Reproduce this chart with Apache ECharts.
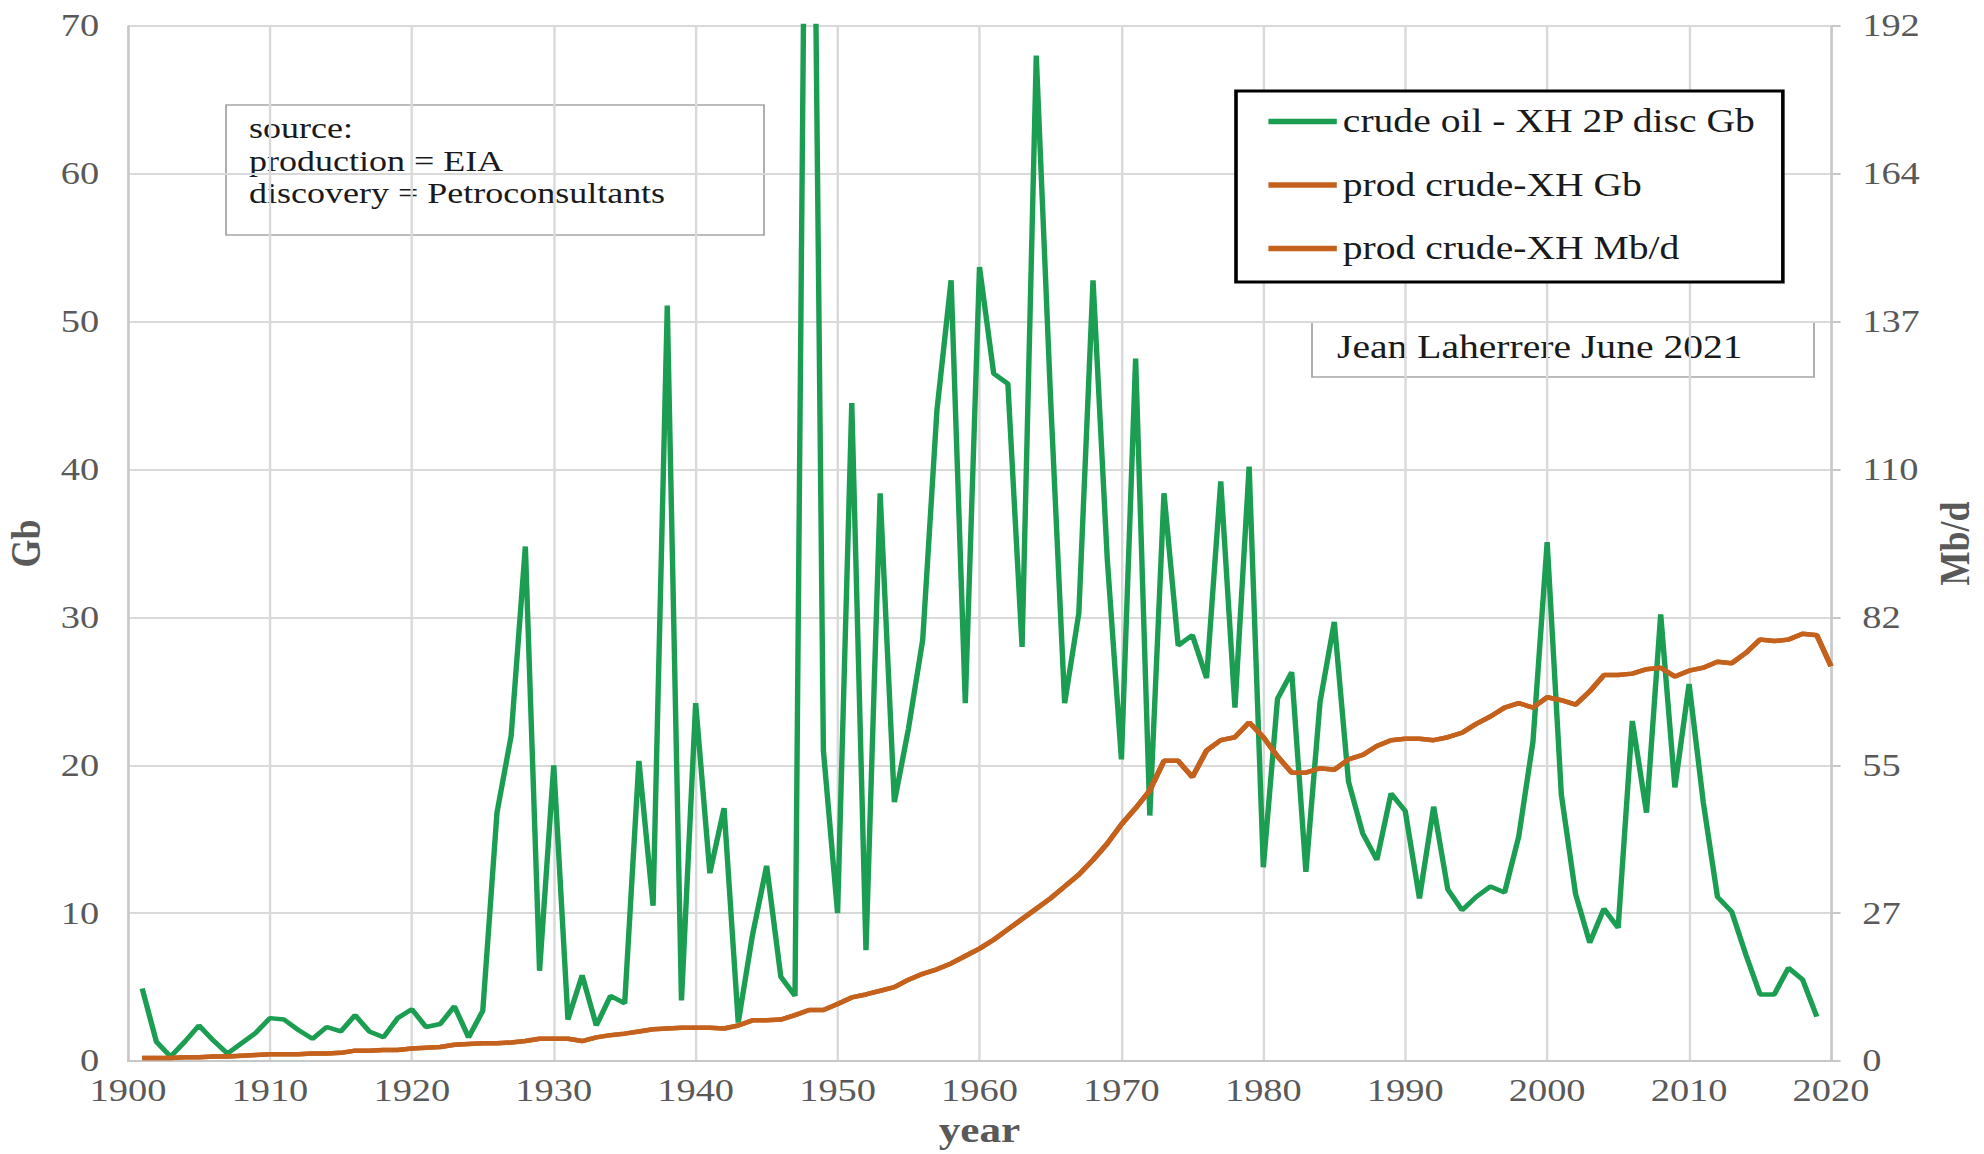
<!DOCTYPE html>
<html>
<head>
<meta charset="utf-8">
<script src="https://cdn.jsdelivr.net/npm/echarts@6.0.0/dist/echarts.min.js"></script>
<style>
html,body{margin:0;padding:0;background:#fff;overflow:hidden;width:1984px;height:1154px;}
#c{width:1653px;height:1154px;transform:scaleX(1.20024);transform-origin:0 0;}
</style>
</head>
<body>
<div id="c"></div>
<script>
// ---- data ----
const discStartYear = 1901;   // crude oil - XH 2P discovery, Gb
const discoveryGb = [
  4.9,1.3,0.3,1.3,2.4,1.4,0.5,1.2,1.9,2.9,
  2.8,2.1,1.5,2.3,2.0,3.1,2.0,1.6,2.9,3.5,
  2.3,2.5,3.7,1.6,3.4,16.8,22.0,34.8,6.1,20.0,
  2.8,5.8,2.4,4.4,3.9,20.3,10.5,51.1,4.1,24.2,
  12.7,17.1,2.6,8.5,13.2,5.7,4.4,115,21.0,10.0,
  44.5,7.5,38.4,17.5,22.5,28.5,44.0,52.8,24.2,53.7,
  46.5,45.8,28.0,68.0,45.0,24.2,30.3,52.8,34.0,20.4,
  47.5,16.6,38.4,28.1,28.8,25.9,39.2,23.9,40.2,13.1,
  24.5,26.3,12.8,24.3,29.7,18.9,15.4,13.6,18.1,16.9,
  11.0,17.2,11.6,10.2,11.1,11.8,11.4,15.2,21.6,35.1,
  18.0,11.3,8.0,10.3,9.0,23.0,16.8,30.2,18.5,25.5,
  17.5,11.1,10.1,7.2,4.5,4.5,6.3,5.5,3.0
];
const prodStartYear = 1901;
const prodGb = [
  0.2,0.2,0.2,0.25,0.25,0.3,0.3,0.35,0.4,0.45,
  0.45,0.45,0.5,0.5,0.55,0.7,0.7,0.75,0.75,0.85,
  0.9,0.95,1.1,1.15,1.2,1.2,1.25,1.35,1.5,1.5,
  1.5,1.35,1.6,1.75,1.85,2.0,2.15,2.2,2.25,2.25,
  2.25,2.2,2.4,2.75,2.75,2.8,3.1,3.45,3.45,3.85,
  4.3,4.5,4.75,5.0,5.5,5.9,6.2,6.6,7.1,7.6,
  8.2,8.9,9.6,10.3,11.0,11.8,12.6,13.6,14.7,16.0,
  17.1,18.3,20.3,20.3,19.2,21.0,21.7,21.9,22.9,21.9,
  20.6,19.5,19.5,19.8,19.7,20.4,20.7,21.3,21.7,21.8,
  21.8,21.7,21.9,22.2,22.8,23.3,23.9,24.2,23.9,24.6,
  24.4,24.1,25.0,26.1,26.1,26.2,26.5,26.6,26.0,26.4,
  26.6,27.0,26.9,27.6,28.5,28.4,28.5,28.9,28.8,26.7
];
const prodMbd = [
  0.55,0.55,0.55,0.68,0.68,0.82,0.82,0.96,1.1,1.23,
  1.23,1.23,1.37,1.37,1.51,1.92,1.92,2.05,2.05,2.33,
  2.47,2.6,3.01,3.15,3.29,3.29,3.42,3.7,4.11,4.11,
  4.11,3.7,4.38,4.79,5.07,5.48,5.89,6.03,6.16,6.16,
  6.16,6.03,6.58,7.53,7.53,7.67,8.49,9.45,9.45,10.55,
  11.78,12.33,13.01,13.7,15.07,16.16,16.99,18.08,19.45,20.82,
  22.47,24.38,26.3,28.22,30.14,32.33,34.52,37.26,40.27,43.84,
  46.85,50.14,55.62,55.62,52.6,57.53,59.45,60.0,62.74,60.0,
  56.44,53.42,53.42,54.25,53.97,55.89,56.71,58.36,59.45,59.73,
  59.73,59.45,60.0,60.82,62.47,63.84,65.48,66.3,65.48,67.4,
  66.85,66.03,68.49,71.51,71.51,71.78,72.6,72.88,71.23,72.33,
  72.88,73.97,73.7,75.62,78.08,77.81,78.08,79.18,78.9,73.15
];
const seriesNames = ['crude oil - XH 2P disc Gb', 'prod crude-XH Gb', 'prod crude-XH Mb/d'];
const noteSource = ['source:', 'production = EIA', 'discovery = Petroconsultants'];
const noteAuthor = 'Jean Laherrere June 2021';
const leftAxis = {min: 0, max: 70, interval: 10};
const xAxisRange = {min: 1900, max: 2020, interval: 10};

// ---- layout helpers (reference is horizontally stretched) ----
const SX = 1984 / 1653;
const X = v => v / SX;
const W = 1653, H = 1154;

const pairs = (start, arr) => arr.map((v, i) => [start + i, v]);

const rightInterval = 10000 / 365;
const rightMax = rightInterval * 7;

const FONT = '"Liberation Serif", "Times New Roman", serif';
const GREEN = '#1b9e52';
const ORANGE = '#c4621d';
const GRID = '#d9d9d9';
const LABEL = '#595959';

const sourceLines = noteSource.map((t, i) => ({
  type: 'text',
  style: {text: t, x: X(249), y: 128 + i * 32.5, fontFamily: FONT, fontSize: 30,
          fill: '#1a1a1a', verticalAlign: 'middle'}
}));

const chart = echarts.init(document.getElementById('c'), null, {renderer: 'svg'});
chart.setOption({
  animation: false,
  backgroundColor: '#fff',
  grid: {
    left: X(128), right: W - X(1831), top: 26, bottom: H - 1061,
    containLabel: false, outerBoundsMode: 'none'
  },
  xAxis: {
    type: 'value', min: xAxisRange.min, max: xAxisRange.max, interval: xAxisRange.interval,
    name: 'year', nameLocation: 'middle', nameGap: 47,
    nameTextStyle: {fontFamily: FONT, fontSize: 36, fontWeight: 'bold', color: LABEL},
    axisLine: {show: true, lineStyle: {color: '#c8c8c8', width: 2}},
    axisTick: {show: false},
    axisLabel: {fontFamily: FONT, fontSize: 32, color: LABEL, margin: 14, formatter: v => String(v)},
    splitLine: {show: true, lineStyle: {color: GRID, width: 2}}
  },
  yAxis: [
    {
      type: 'value', min: leftAxis.min, max: leftAxis.max, interval: leftAxis.interval,
      name: 'Gb', nameLocation: 'middle', nameGap: 66,
      nameTextStyle: {fontFamily: FONT, fontSize: 36, fontWeight: 'bold', color: LABEL},
      axisLine: {show: true, lineStyle: {color: '#c8c8c8', width: 2}},
      axisTick: {show: false},
      axisLabel: {fontFamily: FONT, fontSize: 32, color: LABEL, margin: 24},
      splitLine: {show: true, lineStyle: {color: GRID, width: 2}}
    },
    {
      type: 'value', position: 'right', min: 0, max: rightMax, interval: rightInterval,
      name: 'Mb/d', nameLocation: 'middle', nameGap: 85,
      nameTextStyle: {fontFamily: FONT, fontSize: 36, fontWeight: 'bold', color: LABEL},
      axisLine: {show: true, lineStyle: {color: '#c8c8c8', width: 2}},
      axisTick: {show: true, length: 8, inside: false, lineStyle: {color: '#c8c8c8', width: 2}},
      axisLabel: {fontFamily: FONT, fontSize: 32, color: LABEL, margin: 26, formatter: v => String(Math.round(v))},
      splitLine: {show: false}
    }
  ],
  legend: {
    orient: 'vertical', left: X(1236), top: 91,
    padding: [14, 22, 17, 27],
    itemGap: 30.5, itemWidth: 57, itemHeight: 14,
    backgroundColor: '#fff', borderColor: '#000', borderWidth: 3,
    textStyle: {fontFamily: FONT, fontSize: 33, color: '#1a1a1a', lineHeight: 33},
    data: seriesNames.map(n => ({name: n, icon: 'path://M0,0 L10,0 L10,1 L0,1 Z'})),
    selectedMode: false
  },
  graphic: [
    {
      type: 'group', z: 100,
      children: [
        {type: 'rect', shape: {x: X(226), y: 105, width: X(764) - X(226), height: 130},
         style: {fill: '#fff', stroke: '#a6a6a6', lineWidth: 1.5}}
      ].concat(sourceLines)
    },
    {
      type: 'group', z: 100,
      children: [
        {type: 'rect', shape: {x: X(1312), y: 322, width: X(1814) - X(1312), height: 55},
         style: {fill: '#fff', stroke: '#a6a6a6', lineWidth: 1.5}},
        {type: 'text', style: {text: noteAuthor, x: X(1337), y: 347,
          fontFamily: FONT, fontSize: 33, fill: '#1a1a1a', verticalAlign: 'middle'}}
      ]
    }
  ],
  series: [
    {
      name: seriesNames[0], type: 'line', yAxisIndex: 0, data: pairs(discStartYear, discoveryGb),
      symbol: 'none', showSymbol: false, clip: true, z: 3,
      lineStyle: {color: GREEN, width: 4.5}, itemStyle: {color: GREEN}
    },
    {
      name: seriesNames[1], type: 'line', yAxisIndex: 0, data: pairs(prodStartYear, prodGb),
      symbol: 'none', showSymbol: false, clip: true, z: 4,
      lineStyle: {color: ORANGE, width: 4.5}, itemStyle: {color: ORANGE}
    },
    {
      name: seriesNames[2], type: 'line', yAxisIndex: 1, data: pairs(prodStartYear, prodMbd),
      symbol: 'none', showSymbol: false, clip: true, z: 4,
      lineStyle: {color: ORANGE, width: 4.5}, itemStyle: {color: ORANGE}
    }
  ]
});
</script>
</body>
</html>
